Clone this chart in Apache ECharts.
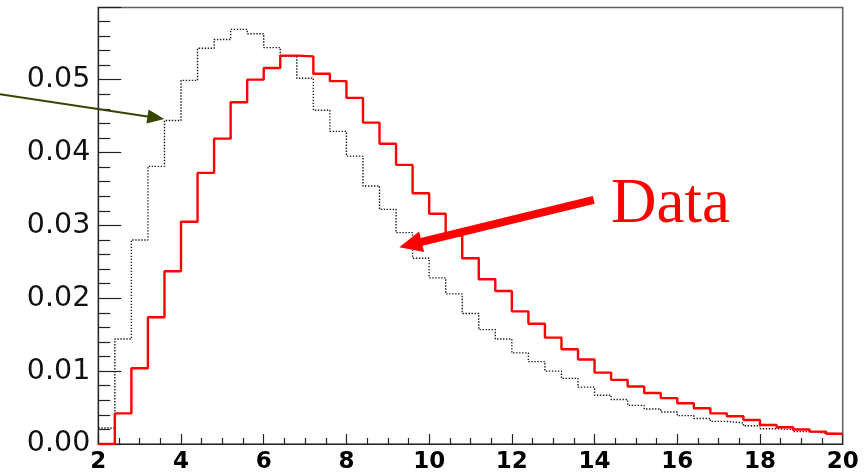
<!DOCTYPE html>
<html>
<head>
<meta charset="utf-8">
<title>Histogram comparison</title>
<script src="https://cdn.jsdelivr.net/npm/echarts@6/dist/echarts.min.js"></script>
<style>
  html, body { margin: 0; padding: 0; background: #fff; }
  #chart { width: 868px; height: 474px; }
</style>
</head>
<body>
<div id="chart"></div>
<script>
// Left bin edges (bin width 0.4) plus the closing edge at 20
const binEdges = [
  2.0, 2.4, 2.8, 3.2, 3.6, 4.0, 4.4, 4.8, 5.2, 5.6,
  6.0, 6.4, 6.8, 7.2, 7.6, 8.0, 8.4, 8.8, 9.2, 9.6,
  10.0, 10.4, 10.8, 11.2, 11.6, 12.0, 12.4, 12.8, 13.2, 13.6,
  14.0, 14.4, 14.8, 15.2, 15.6, 16.0, 16.4, 16.8, 17.2, 17.6,
  18.0, 18.4, 18.8, 19.2, 19.6, 20.0
];

// Measured distribution (red, solid)
const dataValues = [
  0.0000, 0.0042, 0.0104, 0.0174, 0.0237, 0.0305, 0.0372, 0.0419, 0.0469, 0.0500,
  0.0516, 0.0533, 0.0532, 0.0508, 0.0498, 0.0475, 0.0441, 0.0412, 0.0383, 0.0344,
  0.0316, 0.0286, 0.0255, 0.0226, 0.0210, 0.0182, 0.0165, 0.0146, 0.0130, 0.0116,
  0.0098, 0.0088, 0.0079, 0.0070, 0.0063, 0.0056, 0.0049, 0.0042, 0.0038, 0.0033,
  0.0026, 0.0023, 0.0020, 0.0017, 0.0014
];

// Reference distribution (black, dotted)
const refValues = [
  0.0022, 0.0144, 0.0280, 0.0381, 0.0444, 0.0499, 0.0543, 0.0555, 0.0569, 0.0563,
  0.0544, 0.0532, 0.0502, 0.0458, 0.0429, 0.0395, 0.0354, 0.0322, 0.0290, 0.0255,
  0.0228, 0.0206, 0.0179, 0.0157, 0.0144, 0.0125, 0.0113, 0.0100, 0.0090, 0.0078,
  0.0067, 0.0061, 0.0053, 0.0048, 0.0044, 0.0039, 0.0035, 0.0031, 0.0029, 0.0025,
  0.0021, 0.0020, 0.0017, 0.0015, 0.0014
];

// Axis ranges and ticks
const xRange = [2, 20];
const xStep = 2;
const yRange = [0, 0.0599];
const yStep = 0.01;

// Annotation arrows in data coordinates: [tail, tip]
const refArrow = [[-0.377, 0.0480], [3.596, 0.0446]];
const dataArrow = [[13.98, 0.0335], [9.278, 0.0270]];
const dataLabel = 'Data';

// Turn bin contents into step-line points: one point per left edge + closing edge
function histPoints(edges, values) {
  const pts = values.map((v, i) => [edges[i], v]);
  pts.push([edges[values.length], values[values.length - 1]]);
  return pts;
}

const chart = echarts.init(document.getElementById('chart'), null, { renderer: 'canvas' });

const tickColor = '#222';

chart.setOption({
  animation: false,
  backgroundColor: '#ffffff',
  grid: {
    left: 98.3, right: 25.3, top: 7.5, bottom: 25.7,
    show: true, borderColor: '#5f5f5f', borderWidth: 1.5, backgroundColor: 'transparent'
  },
  xAxis: {
    type: 'value',
    min: xRange[0], max: xRange[1], interval: xStep,
    axisLine: { show: true, onZero: false, lineStyle: { color: tickColor, width: 1.2 } },
    axisTick: { show: true, inside: true, length: 10, lineStyle: { color: tickColor, width: 1.2 } },
    minorTick: { show: true, splitNumber: 4, length: 6, lineStyle: { color: tickColor, width: 1.2 } },
    splitLine: { show: false },
    minorSplitLine: { show: false },
    axisLabel: {
      color: '#000', fontFamily: 'DejaVu Sans', fontWeight: 'bold', fontSize: 23, margin: 7
    }
  },
  yAxis: {
    type: 'value',
    min: yRange[0], max: yRange[1], interval: yStep,
    axisLine: { show: true, onZero: false, lineStyle: { color: tickColor, width: 1.2 } },
    axisTick: { show: true, inside: true, length: 23, lineStyle: { color: tickColor, width: 1.2 } },
    minorTick: { show: true, splitNumber: 5, length: 12, lineStyle: { color: tickColor, width: 1.2 } },
    splitLine: { show: false },
    minorSplitLine: { show: false },
    axisLabel: {
      color: '#111', fontFamily: 'DejaVu Sans', fontSize: 28.5, margin: 8,
      showMaxLabel: false,
      formatter: v => v.toFixed(2)
    }
  },
  series: [
    {
      name: 'reference',
      type: 'line',
      step: 'end',
      symbol: 'none',
      data: histPoints(binEdges, refValues),
      lineStyle: { color: '#1a1a1a', width: 1.4, type: [1.4, 1.6] },
      z: 2
    },
    {
      name: 'data',
      type: 'line',
      step: 'end',
      symbol: 'none',
      data: histPoints(binEdges, dataValues),
      lineStyle: { color: '#ff0000', width: 2.4 },
      z: 3
    }
  ]
});

// Arrow outline: shaft rectangle plus triangular head
function arrowShape(tail, tip, shaftW, headLen, headW) {
  const dx = tip[0] - tail[0], dy = tip[1] - tail[1];
  const len = Math.hypot(dx, dy);
  const ux = dx / len, uy = dy / len;
  const nx = -uy, ny = ux;
  const bx = tip[0] - ux * headLen, by = tip[1] - uy * headLen;
  const s = shaftW / 2, h = headW / 2;
  return [
    [tail[0] + nx * s, tail[1] + ny * s],
    [bx + nx * s, by + ny * s],
    [bx + nx * h, by + ny * h],
    [tip[0], tip[1]],
    [bx - nx * h, by - ny * h],
    [bx - nx * s, by - ny * s],
    [tail[0] - nx * s, tail[1] - ny * s]
  ];
}

const toPx = p => chart.convertToPixel({ gridIndex: 0 }, p);
const refA = refArrow.map(toPx);
const dataA = dataArrow.map(toPx);

chart.setOption({
  graphic: [
    {
      type: 'polygon', silent: true, z: 10,
      shape: { points: arrowShape(refA[0], refA[1], 2, 17, 14) },
      style: { fill: '#364500' }
    },
    {
      type: 'polygon', silent: true, z: 10,
      shape: { points: arrowShape(dataA[0], dataA[1], 8, 23, 21) },
      style: { fill: '#ff0000' }
    },
    {
      type: 'text', silent: true, z: 10,
      x: 611, y: 205,
      style: {
        text: dataLabel,
        fill: '#ff0000',
        font: '63px "Liberation Serif"',
        align: 'left',
        verticalAlign: 'middle'
      }
    }
  ]
});
</script>
</body>
</html>
